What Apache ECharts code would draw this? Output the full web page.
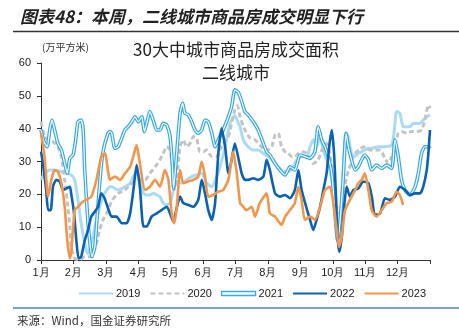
<!DOCTYPE html>
<html><head><meta charset="utf-8">
<script src="https://cdn.jsdelivr.net/npm/echarts@6/dist/echarts.min.js"></script>
<style>html,body{margin:0;padding:0;background:#fff}#c{width:459px;height:334px}</style>
</head><body><div id="c"></div>
<script>
// x values are months elapsed since 1 Jan (0 = 1月 tick, 12 = year end)
const monthLabels = ['1月','2月','3月','4月','5月','6月','7月','8月','9月','10月','11月','12月'];
const years = ['2019','2020','2021','2022','2023'];

const s2019 = [[0,24.4],[0.09,26],[0.27,27.4],[0.42,27.4],[0.63,26.9],[0.78,26.5],[0.93,25.9],[1.04,24.4],[1.14,18.3],[1.24,11.2],[1.35,5.1],[1.43,2],[1.50,3],[1.60,7.1],[1.71,12.2],[1.81,16.2],[1.96,20.3],[2.13,22.3],[2.18,22.3],[2.38,21.3],[2.59,22.3],[2.75,23.4],[2.85,25.4],[2.95,26.4],[3.05,24.4],[3.16,20.3],[3.26,19.8],[3.36,19.8],[3.46,20.3],[3.57,19.8],[3.67,19.3],[3.77,17.3],[3.88,16.8],[3.98,17.3],[4.08,21],[4.19,24],[4.34,23.4],[4.49,24.4],[4.65,25.4],[4.80,25.9],[4.96,26.4],[5.11,23.4],[5.27,22.3],[5.42,25.4],[5.52,28.4],[5.68,34.5],[5.83,41.6],[5.98,44],[6.09,41.6],[6.14,40.6],[6.24,36.6],[6.39,34.5],[6.55,33.5],[6.70,33.5],[6.86,32.5],[7.01,31.5],[7.17,30],[7.32,28.4],[7.47,26.9],[7.63,26.9],[7.78,28.4],[7.89,30.5],[8.04,31.5],[8.20,31.5],[8.30,34.5],[8.40,36.6],[8.50,34.5],[8.61,37.6],[8.71,33.5],[8.81,30.5],[8.91,27.4],[9.02,21.3],[9.10,12.2],[9.17,6],[9.24,12.2],[9.32,26.4],[9.41,38.6],[9.48,37.6],[9.58,32.5],[9.69,31.5],[9.79,32.5],[9.89,33],[9.99,33.5],[10.10,34],[10.20,34],[10.40,34.5],[10.61,34.5],[10.82,35],[10.90,39.6],[10.97,45.2],[11.07,44.7],[11.17,40.6],[11.28,40.6],[11.38,40.6],[11.48,41.6],[11.59,41.6],[11.69,41.6],[11.79,42.6],[11.90,43.6],[12.0,44.2]];

const s2020 = [[0,42.1],[0.11,37.6],[0.22,36.6],[0.37,36],[0.52,34.5],[0.63,31.5],[0.73,24.4],[0.83,16.2],[0.89,10.2],[0.93,4],[1.04,0.5],[1.19,0],[1.35,1],[1.50,1],[1.60,2],[1.71,5.1],[1.81,9.1],[1.91,12.2],[2.07,15.2],[2.18,18],[2.38,20.3],[2.59,21.3],[2.80,23.4],[3.00,24.4],[3.21,24.4],[3.36,26.4],[3.52,28.4],[3.67,30.5],[3.77,32.5],[3.88,34.5],[3.98,33.5],[4.06,27],[4.11,21.5],[4.19,25],[4.29,34.5],[4.39,36.6],[4.49,34.5],[4.60,35.5],[4.70,37.6],[4.80,37.1],[4.90,33],[5.01,33],[5.11,33.5],[5.27,31.5],[5.42,31.5],[5.52,33.5],[5.62,35.5],[5.78,37.6],[5.88,41.6],[5.98,45.7],[6.06,47],[6.14,43.6],[6.29,39.6],[6.45,37.1],[6.60,36.6],[6.75,35],[6.91,33.5],[7.01,33.5],[7.12,34.5],[7.22,38.1],[7.32,38.6],[7.42,34.5],[7.53,33],[7.63,32.5],[7.73,31.5],[7.83,31.5],[7.94,32.5],[8.04,33],[8.20,32.5],[8.40,29.4],[8.55,30.5],[8.71,34.5],[8.81,35.5],[8.91,32.5],[9.02,24.4],[9.12,16.2],[9.22,14.2],[9.32,20.3],[9.43,25.4],[9.53,28.4],[9.63,31.5],[9.74,33],[9.84,33.5],[9.94,34.5],[10.05,34],[10.15,33.5],[10.30,33.5],[10.46,33.5],[10.61,31],[10.71,29.4],[10.82,31.5],[10.92,34.5],[11.02,38.6],[11.12,39.1],[11.28,38.6],[11.43,39.1],[11.59,39.1],[11.74,39.6],[11.84,42.6],[11.95,47.2],[12.0,46.2]];

const s2021 = [[0,39.6],[0.09,36],[0.19,34.5],[0.27,39.6],[0.34,42.6],[0.42,39.6],[0.52,35.5],[0.63,33.5],[0.73,29.4],[0.81,26.4],[0.89,31],[0.99,32],[1.07,36.6],[1.14,42.1],[1.24,42.6],[1.30,39.6],[1.35,27.4],[1.43,14.2],[1.50,6],[1.57,1],[1.66,4],[1.74,14.2],[1.81,23.4],[1.89,31.5],[1.96,35],[2.07,38.6],[2.13,39.1],[2.18,38.6],[2.28,34],[2.38,34.5],[2.49,37.1],[2.59,39.6],[2.69,40.6],[2.80,42.1],[2.90,43.6],[3.00,42.1],[3.11,43.6],[3.19,39.1],[3.26,41.6],[3.36,45.2],[3.46,42.6],[3.57,39.6],[3.67,39.6],[3.77,41.6],[3.88,41.1],[3.98,37.6],[4.05,29.4],[4.09,21.8],[4.19,33],[4.29,44.7],[4.37,47.7],[4.44,44.7],[4.54,44.2],[4.65,42.1],[4.75,39.6],[4.85,38.6],[4.96,39.6],[5.06,42.6],[5.16,42.1],[5.27,38.6],[5.37,34.5],[5.47,36.6],[5.62,39.6],[5.78,43.6],[5.88,46.7],[5.98,51.8],[6.09,51],[6.20,48],[6.29,45.2],[6.39,44.2],[6.55,42.1],[6.70,39.6],[6.86,35.5],[6.96,33],[7.06,32],[7.22,29.4],[7.37,27.4],[7.53,25.9],[7.68,28.4],[7.83,27.4],[7.99,32],[8.14,31.5],[8.30,31],[8.45,33],[8.55,40.6],[8.66,36.6],[8.76,34.5],[8.86,31.5],[8.97,26.4],[9.07,14.2],[9.15,6],[9.22,11.2],[9.32,24.4],[9.41,38.6],[9.48,34.5],[9.58,30.5],[9.69,27.4],[9.79,28.4],[9.89,30.5],[9.99,32],[10.10,30.5],[10.20,27.4],[10.35,28.9],[10.51,27.9],[10.66,28.9],[10.82,27.9],[10.92,36.6],[11.02,31.5],[11.12,24.4],[11.23,21.3],[11.38,19.8],[11.54,22.3],[11.64,26.4],[11.74,32.5],[11.84,34.5],[11.95,34.5],[12.0,34]];

const s2022 = [[0,33],[0.06,29.4],[0.16,21.3],[0.22,15.2],[0.30,15.2],[0.37,22.3],[0.47,24.4],[0.58,23.9],[0.68,21.3],[0.78,21.8],[0.89,22.3],[0.93,20.3],[1.02,14.2],[1.09,6],[1.16,0.5],[1.24,1],[1.35,6],[1.45,9.1],[1.55,13.2],[1.66,14.7],[1.76,16.2],[1.86,20.3],[1.96,18.8],[2.07,15.7],[2.18,13.2],[2.33,13.2],[2.49,11.2],[2.64,11.2],[2.75,14.2],[2.85,21.3],[2.95,28.9],[3.05,22.3],[3.16,10.2],[3.26,10.2],[3.41,13.2],[3.57,14.2],[3.72,15.2],[3.88,16.2],[3.98,14.2],[4.08,11.7],[4.19,16],[4.29,19.3],[4.39,17.3],[4.54,16.8],[4.70,16.2],[4.85,18.3],[4.96,24.4],[5.06,20.3],[5.16,15.2],[5.27,12.2],[5.37,17.3],[5.47,32.5],[5.57,40.1],[5.68,34.5],[5.78,26.4],[5.88,30.5],[5.98,35.5],[6.09,31],[6.19,26.4],[6.29,24.4],[6.39,24.4],[6.55,24.9],[6.70,24.4],[6.86,25.4],[6.96,30.5],[7.06,27.4],[7.22,20.3],[7.37,19.3],[7.53,19.8],[7.68,18.8],[7.83,21.3],[7.94,27.4],[8.04,21.3],[8.20,15.5],[8.30,12.2],[8.40,9.1],[8.50,12.2],[8.61,16.2],[8.71,21.3],[8.81,26.4],[8.89,34.5],[8.97,39.6],[9.04,32.5],[9.10,19.3],[9.15,7.1],[9.20,2.5],[9.28,7.1],[9.35,16.2],[9.43,22.3],[9.53,19.3],[9.63,21.3],[9.79,21.8],[9.94,23.9],[10.10,23.4],[10.21,19],[10.30,13.7],[10.46,14.2],[10.61,18.8],[10.76,18.3],[10.92,19.3],[11.07,22.3],[11.23,21.3],[11.38,19.8],[11.54,20.3],[11.69,20.3],[11.79,22.3],[11.90,27.4],[11.95,32.5],[12.0,39.6]];

const s2023 = [[0,38.7],[0.11,31.5],[0.22,19.3],[0.32,24.4],[0.42,27.4],[0.52,26.9],[0.63,23.4],[0.73,16.2],[0.81,6],[0.89,0.5],[0.93,2],[1.04,15.2],[1.14,16.2],[1.30,17.8],[1.55,19.3],[1.71,24.4],[1.86,31.5],[1.97,32.5],[2.13,24.4],[2.28,25.4],[2.44,24.4],[2.59,26.4],[2.75,28.4],[2.90,33.5],[2.95,35],[3.05,29.4],[3.21,21.3],[3.36,22.3],[3.52,24.4],[3.67,22.3],[3.82,27.4],[3.93,24.4],[4.03,14.2],[4.11,11.2],[4.19,16.2],[4.29,27.4],[4.39,23.4],[4.54,23.9],[4.70,24.4],[4.85,25.4],[4.96,30],[5.06,25.4],[5.16,19.3],[5.31,19.8],[5.47,20.8],[5.62,21.3],[5.78,24.4],[5.93,33],[6.04,26.4],[6.14,17.3],[6.19,16.8],[6.34,15.2],[6.50,16.2],[6.60,13.2],[6.75,17.3],[6.96,20.3],[7.06,14.2],[7.22,13.2],[7.42,10.7],[7.53,13.2],[7.68,15.2],[7.83,17.3],[7.94,22.3],[8.04,18.3],[8.14,12.2],[8.30,13.2],[8.45,12.2],[8.61,16.2],[8.76,21.3],[8.91,22.3],[9.02,17.3],[9.12,9.1],[9.19,4],[9.28,7.1],[9.38,15.2],[9.53,18.3],[9.69,21.3],[9.79,23.4],[9.89,24.4],[9.99,26.4],[10.10,21.3],[10.20,15.2],[10.35,13.2],[10.51,15.2],[10.66,17.3],[10.82,17.8],[10.97,20.8],[11.07,19.8],[11.17,16.8]];

const colors = {'2019':'#a9dbf6','2020':'#c4c4c4','2021':'#35aae8','2022':'#0c62b2','2023':'#f5954a'};
const CJK = '"Noto Sans CJK SC", sans-serif';
const LAT = '"Liberation Sans", Arial, sans-serif';

function line(name, data, style, extra) {
  return Object.assign({
    name: name, type: 'line', data: data, symbol: 'none', showSymbol: false,
    smooth: 0.2, lineStyle: style, itemStyle: {color: style.color}, silent: true
  }, extra || {});
}

const chart = echarts.init(document.getElementById('c'), null, {renderer: 'canvas'});
chart.setOption({
  animation: false,
  grid: {left: 41, right: 29, top: 63, bottom: 74, containLabel: false},
  xAxis: {
    type: 'value', min: 0, max: 12, interval: 1,
    axisLine: {show: true, lineStyle: {color: '#333', width: 1}},
    axisTick: {show: true, length: 4, lineStyle: {color: '#333'}},
    splitLine: {show: false},
    axisLabel: {margin: 7, color: '#222', fontSize: 11, fontFamily: LAT,
      formatter: v => (v < 12 ? monthLabels[v] : '')}
  },
  yAxis: {
    type: 'value', min: 0, max: 60, interval: 10,
    axisLine: {show: true, lineStyle: {color: '#333', width: 1}},
    axisTick: {show: true, length: 4, lineStyle: {color: '#333'}},
    splitLine: {show: false},
    axisLabel: {margin: 10, color: '#222', fontSize: 11, fontFamily: LAT}
  },
  legend: {
    left: 73, top: 283, itemWidth: 34, itemHeight: 4, itemGap: 9,
    itemStyle: {opacity: 0},
    textStyle: {fontSize: 11, fontFamily: LAT, color: '#222', padding: [0,0,0,-2]},
    data: [
      {name: '2019'}, {name: '2020'},
      {name: '2021', icon: 'rect', itemStyle: {color: '#fff', borderColor: colors['2021'], borderWidth: 1.3, opacity: 1}},
      {name: '2022'}, {name: '2023'}
    ]
  },
  series: [
    line('2019', s2019, {color: colors['2019'], width: 3}),
    line('2020', s2020, {color: colors['2020'], width: 3, type: [5, 3]}),
    line('2021', s2021, {color: colors['2021'], width: 3.6}),
    line('2021inner', s2021, {color: '#ffffff', width: 1.2}),
    line('2022', s2022, {color: colors['2022'], width: 2.6}),
    line('2023', s2023, {color: colors['2023'], width: 2.6})
  ],
  graphic: [
    {type: 'text', left: 20, top: 8, style: {text: '图表48：本周，二线城市商品房成交明显下行', font: 'italic bold 17px ' + CJK, fill: '#222'}},
    {type: 'line', shape: {x1: 13, y1: 31.5, x2: 459, y2: 31.5}, style: {stroke: '#333', lineWidth: 1.5}},
    {type: 'text', x: 236, y: 50, style: {text: '30大中城市商品房成交面积', font: '17px ' + CJK, fill: '#222', align: 'center', verticalAlign: 'middle'}},
    {type: 'text', x: 236, y: 72.5, style: {text: '二线城市', font: '17px ' + CJK, fill: '#222', align: 'center', verticalAlign: 'middle'}},
    {type: 'text', x: 42, y: 47, style: {text: '(万平方米)', font: '10px ' + CJK, fill: '#333', verticalAlign: 'middle'}},
    {type: 'line', shape: {x1: 13, y1: 308, x2: 459, y2: 308}, style: {stroke: '#4f81bd', lineWidth: 1.5}},
    {type: 'text', x: 17, y: 321, style: {text: '来源：Wind，国金证券研究所', font: '11.5px ' + CJK, fill: '#333', verticalAlign: 'middle'}}
  ]
});
</script></body></html>
